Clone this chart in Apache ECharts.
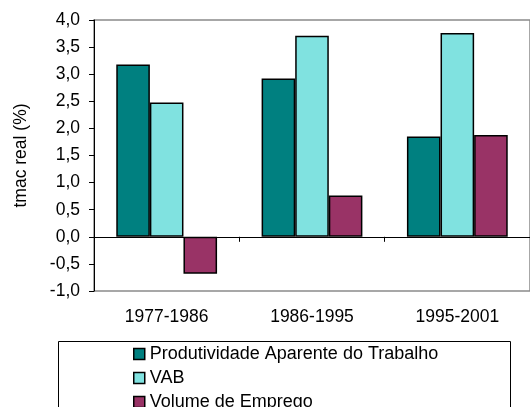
<!DOCTYPE html>
<html>
<head>
<meta charset="utf-8">
<script src="https://cdn.jsdelivr.net/npm/echarts@6/dist/echarts.min.js"></script>
<style>
  html, body { margin: 0; padding: 0; background: #fff; }
  #chart { width: 530px; height: 407px; }
</style>
</head>
<body>
<div id="chart"></div>
<script>
// periodos e taxas (tmac real, %)
var periods = ['1977-1986', '1986-1995', '1995-2001'];
var seriesNames = ['Produtividade Aparente do Trabalho', 'VAB', 'Volume de Emprego'];
var produtividade = [3.18, 2.92, 1.85];
var vab = [2.48, 3.71, 3.76];
var emprego = [-0.68, 0.76, 1.88];
var colors = ['#008080', '#80E2E0', '#993366'];

var FONT = 'Liberation Sans, Arial, sans-serif';

function fmt(v) {
    return v.toFixed(1).replace('.', ',');
}

function barSeries(name, data, color) {
    return {
        name: name,
        type: 'bar',
        xAxisIndex: 0,
        data: data,
        barWidth: 33.6,
        barGap: '0%',
        itemStyle: {
            color: color,
            borderColor: '#000',
            borderWidth: 1.5
        },
        emphasis: { disabled: true }
    };
}

var chart = echarts.init(document.getElementById('chart'));
var option = {
    animation: false,
    textStyle: { fontFamily: FONT },
    grid: {
        left: 94,
        top: 20,
        width: 448,
        height: 271,
        show: true,
        borderColor: '#8a8a8a',
        borderWidth: 1.5
    },
    xAxis: [
        {
            // eixo de rotulos (em baixo)
            type: 'category',
            data: periods,
            position: 'bottom',
            axisLine: { show: false, onZero: false },
            axisTick: { show: false },
            axisLabel: { color: '#000', fontSize: 17.5, margin: 17, fontFamily: FONT }
        },
        {
            // linha do zero
            type: 'category',
            data: periods,
            position: 'bottom',
            axisLine: { onZero: true, lineStyle: { color: '#000', width: 1 } },
            axisTick: { show: true, length: 5, lineStyle: { color: '#000' } },
            axisLabel: { show: false }
        }
    ],
    yAxis: {
        type: 'value',
        min: -1,
        max: 4,
        interval: 0.5,
        name: 'tmac real (%)',
        nameLocation: 'middle',
        nameGap: 64,
        nameTextStyle: { color: '#000', fontSize: 17.5, fontFamily: FONT },
        axisLine: { show: true, lineStyle: { color: '#000', width: 1 } },
        axisTick: { show: true, length: 5, lineStyle: { color: '#000' } },
        splitLine: { show: false },
        axisLabel: {
            color: '#000',
            fontSize: 17.5,
            margin: 14,
            fontFamily: FONT,
            formatter: fmt
        }
    },
    legend: {
        orient: 'vertical',
        left: 133,
        top: 345,
        height: 90,
        padding: 0,
        itemWidth: 11,
        itemHeight: 11,
        itemGap: 6,
        icon: 'rect',
        data: seriesNames,
        itemStyle: { borderColor: '#000', borderWidth: 1.5 },
        textStyle: { color: '#000', fontSize: 18, lineHeight: 18, fontFamily: FONT },
        selectedMode: false
    },
    graphic: [
        {
            type: 'rect',
            shape: { x: 58.5, y: 341.5, width: 452, height: 100 },
            style: { fill: 'none', stroke: '#000', lineWidth: 1 },
            silent: true
        }
    ],
    series: [
        barSeries(seriesNames[0], produtividade, colors[0]),
        barSeries(seriesNames[1], vab, colors[1]),
        barSeries(seriesNames[2], emprego, colors[2])
    ]
};
chart.setOption(option);
</script>
</body>
</html>
